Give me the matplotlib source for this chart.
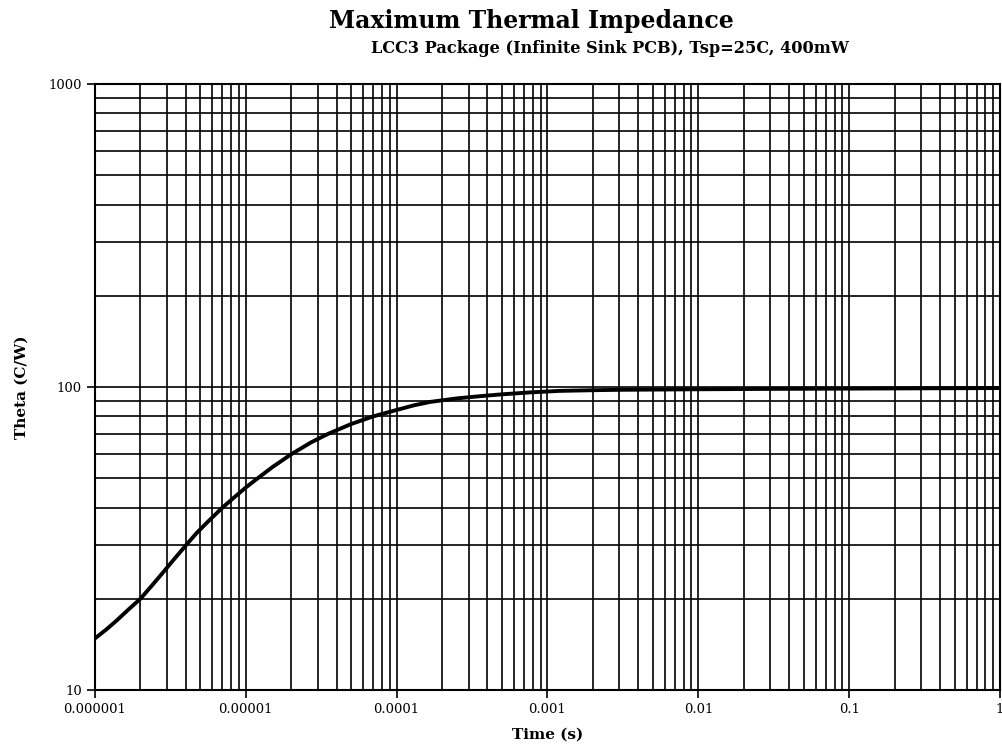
import matplotlib
matplotlib.use("Agg")
import matplotlib.pyplot as plt
from matplotlib.ticker import LogLocator, NullFormatter, FixedLocator, FixedFormatter
import numpy as np

# Data
time_s = [1e-6, 1.2e-6, 1.4e-6, 1.7e-6, 2e-6, 2.4e-6, 2.8e-6, 3.3e-6, 4e-6, 4.7e-6,
          5.5e-6, 7e-6, 8.5e-6, 1e-5, 1.2e-5, 1.5e-5, 2e-5, 2.7e-5, 3.5e-5,
          5e-5, 7e-5, 1e-4, 1.3e-4, 1.67e-4, 2.5e-4, 3.6e-4, 5e-4, 7.7e-4,
          1.2e-3, 2e-3, 3e-3, 1e-2, 3e-2, 0.1, 0.3, 1.0]
theta = [14.8, 15.9, 17.0, 18.6, 20.0, 22.2, 24.3, 26.8, 30.0, 32.9,
         35.6, 40.0, 43.5, 46.6, 50.0, 54.4, 60.0, 65.6, 70.0,
         75.5, 80.0, 84.0, 87.0, 89.3, 91.7, 93.3, 94.6, 96.0,
         97.1, 97.6, 97.9, 98.3, 98.6, 98.8, 99.0, 99.2]

x_ticks = [1e-6, 1e-5, 1e-4, 1e-3, 1e-2, 1e-1, 1]
x_ticklabels = ["0.000001", "0.00001", "0.0001", "0.001", "0.01", "0.1", "1"]
y_ticks = [10, 100, 1000]
y_ticklabels = ["10", "100", "1000"]

title = "Maximum Thermal Impedance"
subtitle = "LCC3 Package (Infinite Sink PCB), Tsp=25C, 400mW"
xlabel = "Time (s)"
ylabel = "Theta (C/W)"

plt.rcParams['font.family'] = ['DejaVu Serif']

fig = plt.figure(figsize=(10.02, 7.55), dpi=100)
ax = fig.add_axes([0.0948, 0.0861, 0.9032, 0.8026])

ax.set_xscale('log')
ax.set_yscale('log')
ax.set_xlim(1e-6, 1)
ax.set_ylim(10, 1000)

ax.plot(time_s, theta, color='black', lw=2.8, solid_capstyle='butt',
        solid_joinstyle='round', zorder=3)

ax.xaxis.set_major_locator(FixedLocator(x_ticks))
ax.xaxis.set_major_formatter(FixedFormatter(x_ticklabels))
ax.yaxis.set_major_locator(FixedLocator(y_ticks))
ax.yaxis.set_major_formatter(FixedFormatter(y_ticklabels))
ax.xaxis.set_minor_locator(LogLocator(base=10, subs=np.arange(2, 10)))
ax.yaxis.set_minor_locator(LogLocator(base=10, subs=np.arange(2, 10)))
ax.xaxis.set_minor_formatter(NullFormatter())
ax.yaxis.set_minor_formatter(NullFormatter())

ax.grid(True, which='both', color='black', lw=1.2)
ax.tick_params(which='minor', length=0)
ax.tick_params(which='major', length=6, width=1.2, direction='out', labelsize=9.5)
for s in ax.spines.values():
    s.set_linewidth(1.5)

ax.set_xlabel(xlabel, fontsize=11, fontweight='bold', labelpad=8)
ax.set_ylabel(ylabel, fontsize=11, fontweight='bold', labelpad=14)

fig.text(0.530, 0.972, title, ha='center', va='center', fontsize=17, fontweight='bold')
fig.text(0.609, 0.936, subtitle, ha='center', va='center', fontsize=11.6, fontweight='bold')

fig.savefig("out.png", dpi=100)
